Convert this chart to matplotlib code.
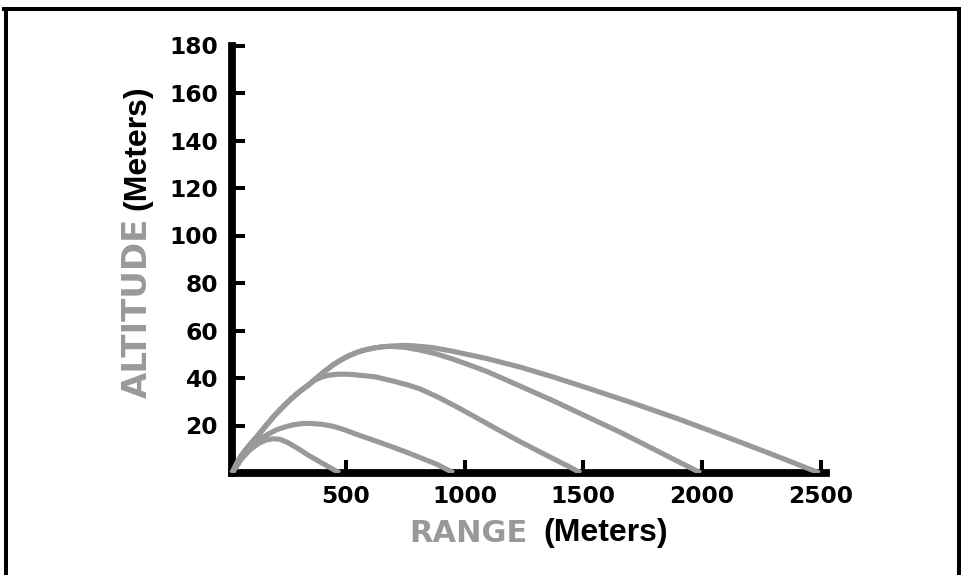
import matplotlib
matplotlib.use("Agg")
import matplotlib.pyplot as plt
from matplotlib.lines import Line2D

# ---- data ----
x_ticks = [500, 1000, 1500, 2000, 2500]
y_ticks = [20, 40, 60, 80, 100, 120, 140, 160, 180]

c1_x = [21, 62, 97, 132, 162, 192, 222, 252, 272, 310, 342, 410, 475]
c1_y = [0, 6.0, 9.8, 12.4, 13.8, 14.4, 14.2, 13.0, 11.9, 9.6, 7.5, 3.6, 0]

c2_x = [21, 62, 97, 132, 174, 209, 244, 279, 314, 349, 400, 450, 500, 553, 623, 693, 757, 820, 883, 955]
c2_y = [0, 6.5, 10.5, 13.8, 16.4, 18.2, 19.4, 20.3, 20.8, 20.9, 20.5, 19.6, 18.0, 16.0, 13.6, 11.1, 8.7, 6.2, 3.7, 0]

c3_x = [21, 40, 62, 97, 132, 167, 202, 237, 272, 307, 342, 372, 399, 430, 469, 510, 545, 623, 700, 763,
        813, 883, 953, 1023, 1093, 1164, 1234, 1304, 1374, 1434, 1490]
c3_y = [0, 3.8, 7.6, 12.0, 16.0, 20.3, 24.4, 28.0, 31.4, 34.4, 37.0, 39.2, 40.4, 41.2, 41.6, 41.6, 41.3, 40.5, 38.7, 37.0,
        35.4, 32.2, 28.6, 24.8, 20.9, 17.0, 13.2, 9.6, 6.0, 3.0, 0]

c4_x = [21, 40, 62, 97, 132, 167, 202, 237, 272, 307, 342, 378, 413, 448, 483, 518, 553, 588, 623, 660, 690,
        750, 805, 880, 950, 1020, 1093, 1234, 1374, 1514, 1655, 1740, 1825, 1910, 1995]
c4_y = [0, 3.8, 7.6, 12.0, 16.0, 20.3, 24.4, 28.0, 31.4, 34.4, 37.0, 40.1, 43.0, 45.6, 47.8, 49.6, 51.0, 52.0, 52.7, 53.2, 53.3,
        52.9, 51.9, 50.2, 48.0, 45.5, 42.8, 36.6, 30.4, 23.8, 17.2, 12.9, 8.6, 4.3, 0]

c5_x = [21, 40, 62, 97, 132, 167, 202, 237, 272, 307, 342, 378, 413, 448, 483, 518, 553, 588, 623, 660, 700,
        740, 780, 866, 953, 1093, 1234, 1374, 1514, 1704, 1894, 2034, 2174, 2335, 2495]
c5_y = [0, 3.8, 7.6, 12.0, 16.0, 20.3, 24.4, 28.0, 31.4, 34.4, 37.0, 40.1, 43.0, 45.6, 47.8, 49.6, 51.0, 52.0, 52.7, 53.2, 53.5,
        53.7, 53.6, 52.8, 51.2, 48.2, 44.6, 40.4, 35.9, 29.6, 23.0, 17.8, 12.5, 6.3, 0]

curves = [(c1_x, c1_y), (c2_x, c2_y), (c3_x, c3_y), (c4_x, c4_y), (c5_x, c5_y)]

W, H = 961, 575
fig = plt.figure(figsize=(W / 100, H / 100), dpi=100)
ax = fig.add_axes([227 / W, 102 / H, 598.5 / W, 427.5 / H])

gray = "#999999"
for cx, cy in curves:
    ax.plot(cx, cy, color=gray, lw=3.7, solid_capstyle="butt", solid_joinstyle="round", zorder=3)

ax.set_xlim(0, 2520)
ax.set_ylim(0, 180)
ax.set_xticks(x_ticks)
ax.set_yticks(y_ticks)
ax.set_xticklabels([str(v) for v in x_ticks])
ax.set_yticklabels([str(v) for v in y_ticks])

for s in ["top", "right"]:
    ax.spines[s].set_visible(False)
ax.spines["left"].set_position(("data", 21))
ax.spines["left"].set_linewidth(5.6)
ax.spines["bottom"].set_linewidth(5.6)
ax.spines["bottom"].set_bounds(21, 2520)
ax.spines["left"].set_capstyle("projecting")
ax.spines["bottom"].set_capstyle("projecting")

ax.tick_params(axis="both", direction="in", length=9.5, width=2.9, color="black")
ax.tick_params(axis="y", pad=10)
ax.tick_params(axis="x", pad=8.5)
for lab in ax.get_xticklabels() + ax.get_yticklabels():
    lab.set_fontfamily("DejaVu Sans")
    lab.set_fontweight("bold")
    lab.set_fontsize(16.8)

# axis labels
fig.text(137 / W, 1 - 308 / H, "ALTITUDE", rotation=90, ha="center", va="center",
         family="DejaVu Sans", weight="bold", size=24.5, color=gray)
fig.text(137 / W, 1 - 148 / H, "(Meters)", rotation=90, ha="center", va="center",
         family="Liberation Sans", weight="bold", size=23, color="black")
fig.text(528 / W, 1 - 533 / H, "RANGE", ha="right", va="center",
         family="DejaVu Sans", weight="bold", size=22, color=gray)
fig.text(606 / W, 1 - 533 / H, "(Meters)", ha="center", va="center",
         family="Liberation Sans", weight="bold", size=23, color="black")

# frame
lw = 2.9
fig.add_artist(Line2D([6 / W, 6 / W], [0, 1 - 9 / H], transform=fig.transFigure, color="black", lw=lw))
fig.add_artist(Line2D([4 / W, 1], [1 - 9 / H, 1 - 9 / H], transform=fig.transFigure, color="black", lw=lw))
fig.add_artist(Line2D([958.5 / W, 958.5 / W], [0, 1 - 9 / H], transform=fig.transFigure, color="black", lw=lw))

fig.savefig("out.png", dpi=100)
